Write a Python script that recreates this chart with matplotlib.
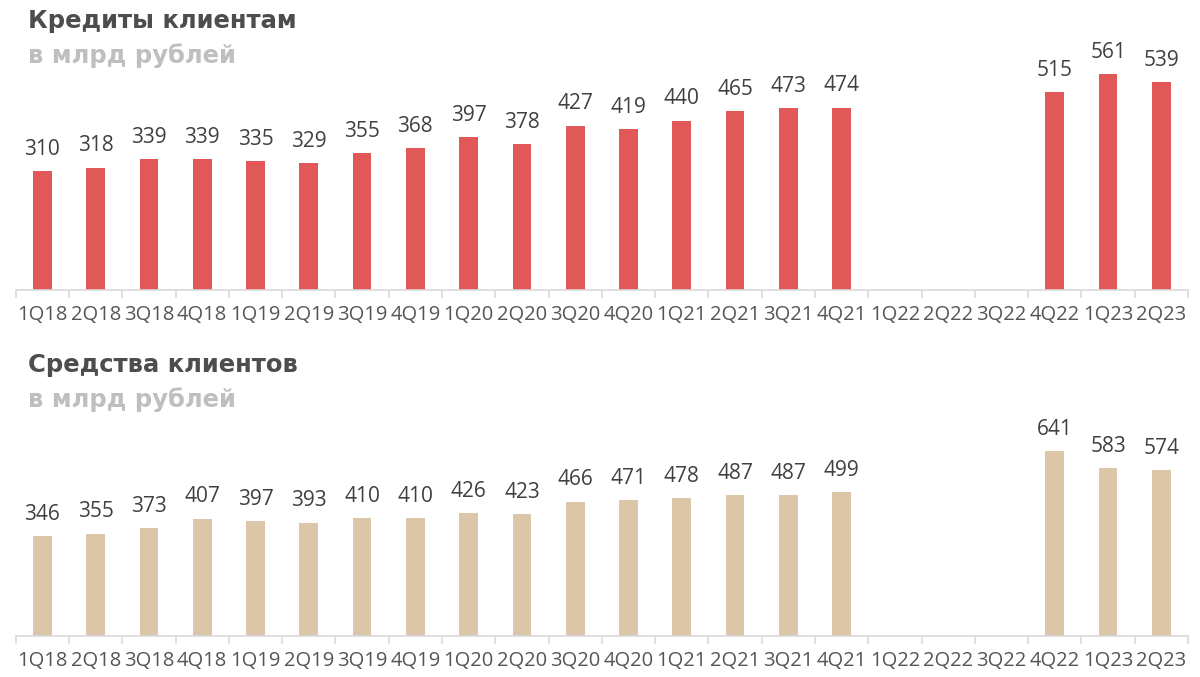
import numpy as np
import matplotlib.pyplot as plt

quarters = ["1Q18", "2Q18", "3Q18", "4Q18", "1Q19", "2Q19", "3Q19", "4Q19",
            "1Q20", "2Q20", "3Q20", "4Q20", "1Q21", "2Q21", "3Q21", "4Q21",
            "1Q22", "2Q22", "3Q22", "4Q22", "1Q23", "2Q23"]
loans = [310, 318, 339, 339, 335, 329, 355, 368, 397, 378, 427, 419,
         440, 465, 473, 474, None, None, None, 515, 561, 539]
deposits = [346, 355, 373, 407, 397, 393, 410, 410, 426, 423, 466, 471,
            478, 487, 487, 499, None, None, None, 641, 583, 574]

plt.rcParams['font.family'] = ['Open Sans', 'DejaVu Sans']

W, H = 1200, 677
fig = plt.figure(figsize=(W / 100, H / 100), dpi=100)


def panel(base_px, top_px, ymax, values, color, title, title_y):
    left, right = 15.7, 1188
    ax = fig.add_axes([left / W, 1 - base_px / H, (right - left) / W, (base_px - top_px) / H])
    x = np.arange(len(quarters))
    vals = np.array([np.nan if v is None else v for v in values], dtype=float)
    ok = ~np.isnan(vals)
    ax.bar(x[ok], vals[ok], width=0.35, color=color, zorder=2)
    for xi, v in zip(x[ok], vals[ok]):
        ax.annotate(f"{int(v)}", (xi, v), xytext=(0, 8), textcoords='offset points',
                    ha='center', va='bottom', fontsize=15, color='#404040',
                    annotation_clip=False)
    ax.set_xlim(-0.5, len(quarters) - 0.5)
    ax.set_ylim(0, ymax)
    for s in ['top', 'right', 'left']:
        ax.spines[s].set_visible(False)
    ax.spines['bottom'].set_color('#d9d9d9')
    ax.spines['bottom'].set_linewidth(1.2)
    ax.set_yticks([])
    ax.set_xticks(np.arange(-0.5, len(quarters)), labels=[''] * (len(quarters) + 1))
    ax.tick_params(axis='x', which='major', length=6, color='#d9d9d9', width=1.2)
    ax.set_xticks(x, labels=quarters, minor=True)
    ax.tick_params(axis='x', which='minor', length=0, pad=11, labelsize=14.5, labelcolor='#555555')
    fig.text(28 / W, 1 - title_y / H, title, fontsize=17.5, fontweight='bold',
             color='#4d4d4d', family=['DejaVu Sans'], va='baseline')
    fig.text(28 / W, 1 - (title_y + 35) / H, "в млрд рублей", fontsize=17.5, fontweight='bold',
             color='#bfbfbf', family=['DejaVu Sans'], va='baseline')
    return ax


panel(290, 59, 600, loans, '#e05858', "Кредиты клиентам", 28)
panel(636, 434, 700, deposits, '#dcc6a8', "Средства клиентов", 372)

fig.savefig('out.png', dpi=100, facecolor='white')
